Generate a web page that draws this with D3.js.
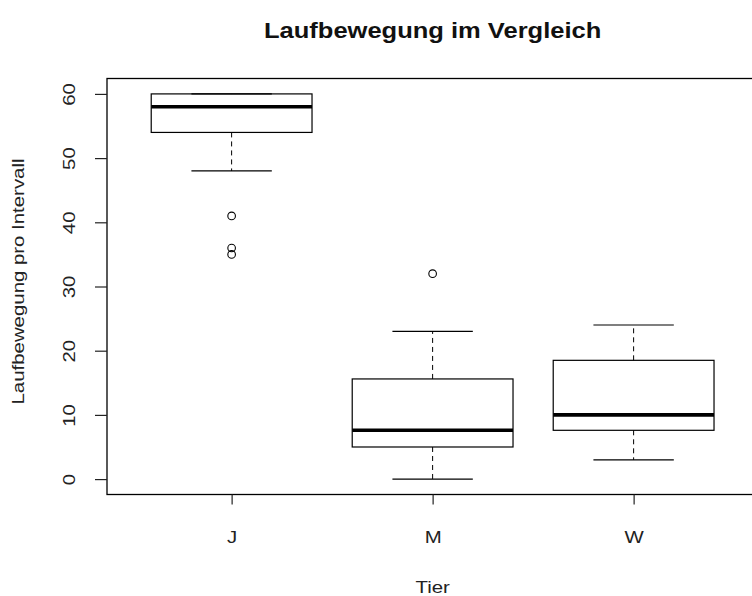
<!DOCTYPE html>
<html>
<head>
<meta charset="utf-8">
<script src="https://cdn.jsdelivr.net/npm/d3@7"></script>
<style>
  body { margin: 0; background: #fff; }
  svg { display: block; font-family: "Liberation Sans", Arial, sans-serif; }
</style>
</head>
<body>
<svg id="chart" width="752" height="596"></svg>
<script>
"use strict";

// boxplot stats
const tiers = ['J', 'M', 'W'];
const whiskerLow = [48, 0, 3];
const lowerHinge = [54, 5, 7.6];
const medians = [58, 7.6, 10];
const upperHinge = [60, 15.6, 18.5];
const whiskerHigh = [60, 23, 24];
const outliers = [[41, 36, 35], [32], []];
const yTicks = [0, 10, 20, 30, 40, 50, 60];

const svg = d3.select('#chart');

// plot region (right edge runs past the window, as in the original)
const plotLeft = 107, plotTop = 78.5, plotBottom = 494.5;
// windows text renders wider than Liberation Sans, stretch a bit
const stretch = 'scale(1.2,1)';
const fontSize = 17;

// R style: xlim 0.5..3.5 widened by 4 %
const x = d3.scaleLinear().domain([0.38, 3.62]).range([plotLeft, plotLeft + 3.24 * 201]);
const y = d3.scaleLinear().domain([-2.4, 62.4]).range([plotBottom, plotTop]);

const boxes = tiers.map((t, i) => ({
  tier: t, pos: i + 1,
  lo: whiskerLow[i], q1: lowerHinge[i], med: medians[i],
  q3: upperHinge[i], hi: whiskerHigh[i], out: outliers[i]
}));

const g = svg.append('g');

// frame
g.append('rect')
  .attr('x', x(0.38)).attr('y', y(62.4))
  .attr('width', x(3.62) - x(0.38)).attr('height', y(-2.4) - y(62.4))
  .attr('fill', 'none').attr('stroke', '#000').attr('stroke-width', 1.3);

const box = g.selectAll('.box').data(boxes).join('g').attr('class', 'box');

// whiskers
box.append('line')
  .attr('x1', d => x(d.pos)).attr('x2', d => x(d.pos))
  .attr('y1', d => y(d.q3)).attr('y2', d => y(d.hi))
  .attr('stroke', '#000').attr('stroke-dasharray', '5,4');
box.append('line')
  .attr('x1', d => x(d.pos)).attr('x2', d => x(d.pos))
  .attr('y1', d => y(d.q1)).attr('y2', d => y(d.lo))
  .attr('stroke', '#000').attr('stroke-dasharray', '5,4');

// staples
[d => d.hi, d => d.lo].forEach(v => {
  box.append('line')
    .attr('x1', d => x(d.pos - 0.2)).attr('x2', d => x(d.pos + 0.2))
    .attr('y1', d => y(v(d))).attr('y2', d => y(v(d)))
    .attr('stroke', '#000').attr('stroke-width', 1.2);
});

// boxes
box.append('rect')
  .attr('x', d => x(d.pos - 0.4)).attr('width', d => x(d.pos + 0.4) - x(d.pos - 0.4))
  .attr('y', d => y(d.q3)).attr('height', d => y(d.q1) - y(d.q3))
  .attr('fill', 'none').attr('stroke', '#000').attr('stroke-width', 1.2);

// medians
box.append('line')
  .attr('x1', d => x(d.pos - 0.4)).attr('x2', d => x(d.pos + 0.4))
  .attr('y1', d => y(d.med)).attr('y2', d => y(d.med))
  .attr('stroke', '#000').attr('stroke-width', 3.6);

// outliers
box.selectAll('circle').data(d => d.out.map(v => ({ pos: d.pos, v }))).join('circle')
  .attr('cx', d => x(d.pos)).attr('cy', d => y(d.v)).attr('r', 3.8)
  .attr('fill', 'none').attr('stroke', '#000').attr('stroke-width', 1.1);

// y axis
const yAxis = g.append('g').attr('transform', `translate(${plotLeft},0)`)
  .call(d3.axisLeft(y).tickValues(yTicks).tickSize(12).tickPadding(0));
yAxis.select('.domain').attr('stroke', 'none');
yAxis.selectAll('.tick line').attr('stroke', '#222').attr('stroke-width', 1.2);
yAxis.selectAll('.tick text')
  .attr('x', null).attr('dy', null)
  .attr('text-anchor', 'middle')
  .attr('transform', `translate(-32,0) rotate(-90) ${stretch}`)
  .attr('font-size', fontSize).attr('fill', '#222')
  .style('font-family', '"Liberation Sans", Arial, sans-serif');

// x axis
const xAxis = g.append('g').attr('transform', `translate(0,${plotBottom})`)
  .call(d3.axisBottom(x).tickValues([1, 2, 3]).tickFormat(d => tiers[d - 1]).tickSize(10).tickPadding(0));
xAxis.select('.domain').attr('stroke', 'none');
xAxis.selectAll('.tick line').attr('stroke', '#222').attr('stroke-width', 1.2);
xAxis.selectAll('.tick text')
  .attr('y', 48.5).attr('dy', null)
  .attr('transform', stretch)
  .attr('font-size', fontSize).attr('fill', '#222')
  .style('font-family', '"Liberation Sans", Arial, sans-serif');

// titles
const midX = (x(0.38) + x(3.62)) / 2;
svg.append('text')
  .attr('transform', `translate(${midX},38) scale(1.16,1)`)
  .attr('text-anchor', 'middle')
  .attr('font-size', 22).attr('font-weight', 'bold').attr('fill', '#111')
  .text('Laufbewegung im Vergleich');

svg.append('text')
  .attr('transform', `translate(${midX},593) ${stretch}`)
  .attr('text-anchor', 'middle')
  .attr('font-size', fontSize).attr('fill', '#222')
  .text('Tier');

svg.append('text')
  .attr('transform', `translate(24,${(plotTop + plotBottom) / 2 - 5}) rotate(-90) ${stretch}`)
  .attr('text-anchor', 'middle')
  .attr('font-size', fontSize).attr('fill', '#222')
  .text('Laufbewegung pro Intervall');
</script>
</body>
</html>
